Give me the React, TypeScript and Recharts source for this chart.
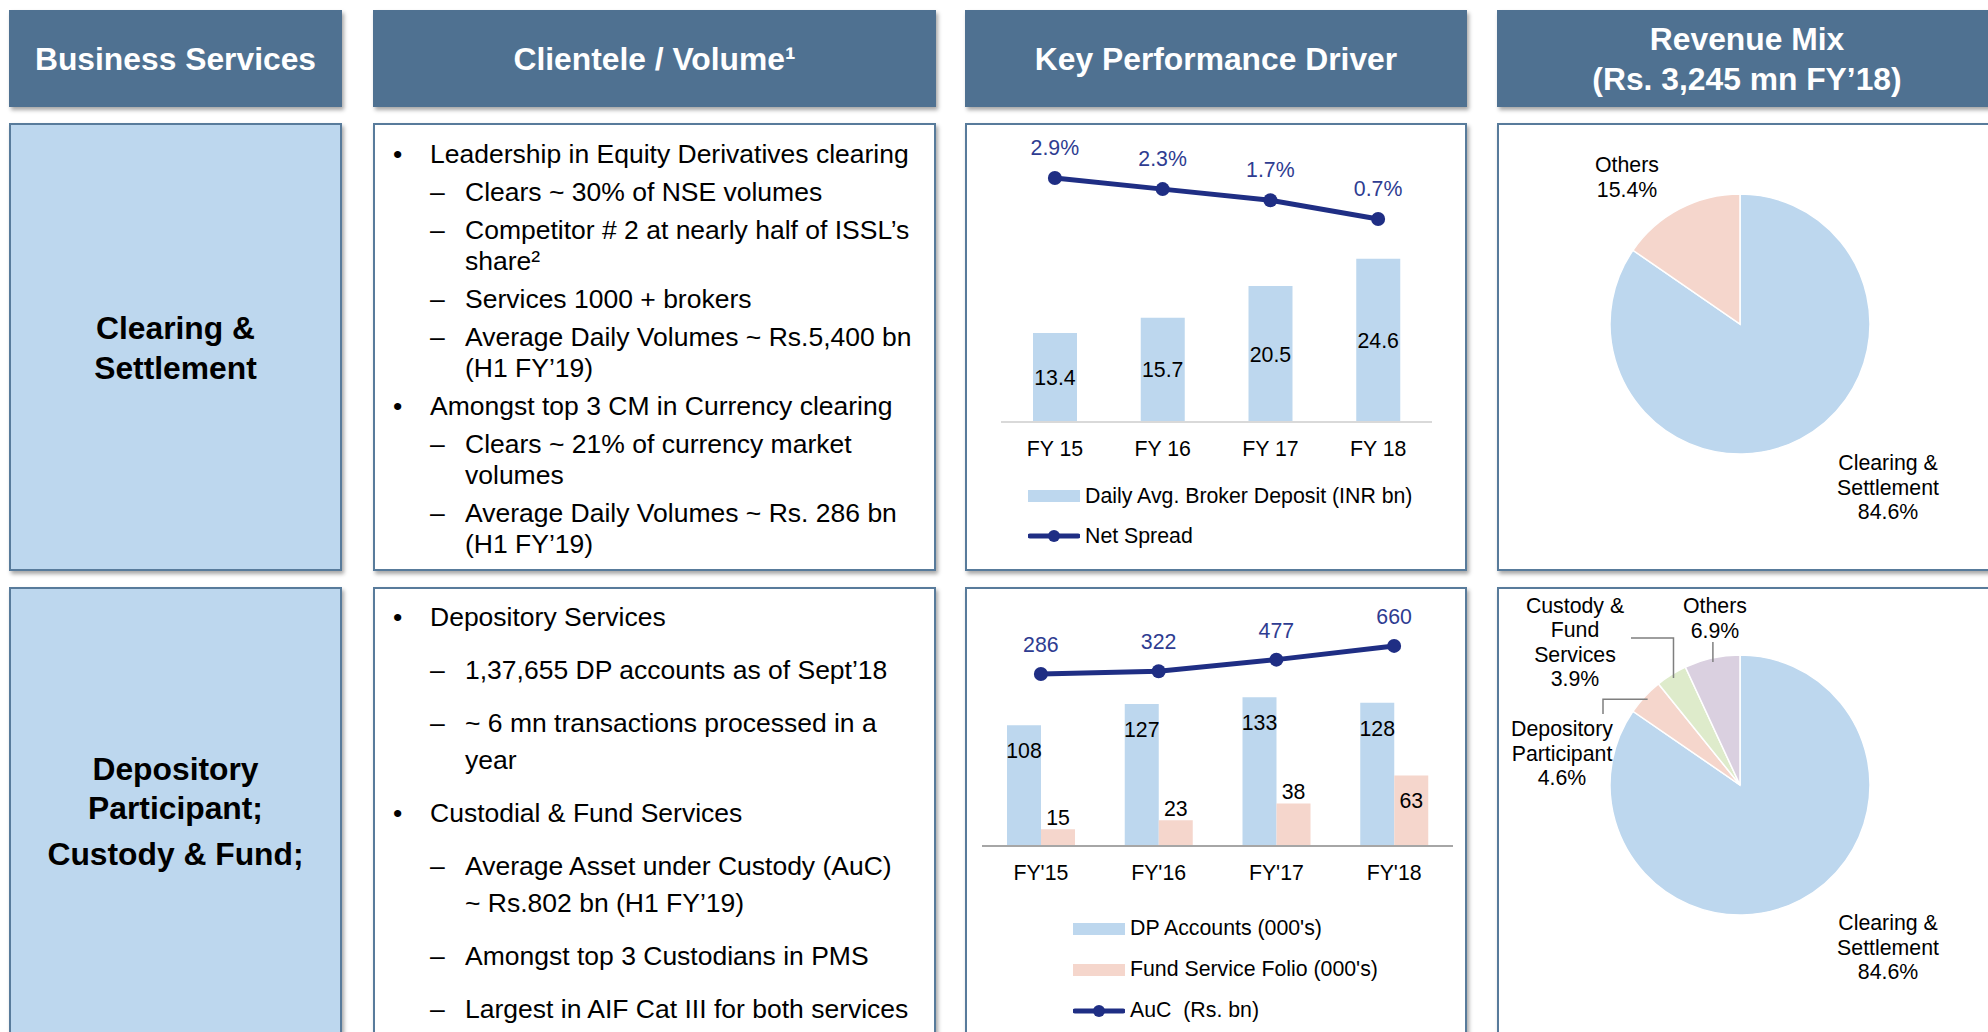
import React from 'react';
import { ComposedChart, Bar, Line, XAxis, YAxis, LabelList, Legend, PieChart, Pie, Cell } from 'recharts';

// Clearing & Settlement KPI
const depositYears = ['FY 15', 'FY 16', 'FY 17', 'FY 18'];
const brokerDeposit = [13.4, 15.7, 20.5, 24.6];
const netSpread = [2.9, 2.3, 1.7, 0.7];

// Depository / Custody KPI
const depoYears = ["FY'15", "FY'16", "FY'17", "FY'18"];
const dpAccounts = [108, 127, 133, 128];
const fundFolio = [15, 23, 38, 63];
const aucValues = [286, 322, 477, 660];

// Revenue mix pies
const mixNames1 = ['Clearing &\nSettlement', 'Others'];
const mixShares1 = [84.6, 15.4];
const mixColors1 = ['#BDD7EE', '#F5D6CC'];

const mixNames2 = ['Clearing &\nSettlement', 'Depository\nParticipant', 'Custody &\nFund\nServices', 'Others'];
const mixShares2 = [84.6, 4.6, 3.9, 6.9];
const mixColors2 = ['#BDD7EE', '#F5D6CC', '#DEEBCB', '#DAD0E0'];

const headers = ['Business Services', 'Clientele / Volume¹', 'Key Performance Driver', 'Revenue Mix\n(Rs. 3,245 mn FY’18)'];

const legendOrder1 = ['Daily Avg. Broker Deposit (INR bn)', 'Net Spread'];
const legendOrder2 = ["DP Accounts (000's)", "Fund Service Folio (000's)", 'AuC  (Rs. bn)'];

type Point = { lvl: 1 | 2; lines: string[] };

const clearingPoints: Point[] = [
  { lvl: 1, lines: ['Leadership in Equity Derivatives clearing'] },
  { lvl: 2, lines: ['Clears ~ 30% of NSE volumes'] },
  { lvl: 2, lines: ['Competitor # 2 at nearly half of ISSL’s', 'share²'] },
  { lvl: 2, lines: ['Services 1000 + brokers'] },
  { lvl: 2, lines: ['Average Daily Volumes ~ Rs.5,400 bn', '(H1 FY’19)'] },
  { lvl: 1, lines: ['Amongst top 3 CM in Currency clearing'] },
  { lvl: 2, lines: ['Clears ~ 21% of currency market', 'volumes'] },
  { lvl: 2, lines: ['Average Daily Volumes ~ Rs. 286 bn', '(H1 FY’19)'] },
];

const depositoryPoints: Point[] = [
  { lvl: 1, lines: ['Depository Services'] },
  { lvl: 2, lines: ['1,37,655 DP accounts as of Sept’18'] },
  { lvl: 2, lines: ['~ 6 mn transactions processed in a', 'year'] },
  { lvl: 1, lines: ['Custodial & Fund Services'] },
  { lvl: 2, lines: ['Average Asset under Custody (AuC)', '~ Rs.802 bn (H1 FY’19)'] },
  { lvl: 2, lines: ['Amongst top 3 Custodians in PMS'] },
  { lvl: 2, lines: ['Largest in AIF Cat III for both services'] },
];

const FONT = '"Liberation Sans", Arial, Helvetica, sans-serif';
const HEADER_BG = '#4F7191';
const EDGE = '#587B9B';
const NAVY = '#1F2E84';
const NAVY_TEXT = '#2E3C91';
const SHADOW = '2px 3px 4px rgba(0,0,0,0.35)';
const FS = 21.3; // chart text size
const BOLD_FS = 31.8;
const BODY_FS = 26.5;

const cols = [
  { x: 9, w: 333 },
  { x: 373, w: 563 },
  { x: 965, w: 502 },
  { x: 1497, w: 520 },
];
const ROW1 = { top: 123, h: 448 };
const ROW2 = { top: 587, h: 470 };

const kpi1 = depositYears.map((year, i) => ({ year, deposit: brokerDeposit[i], spread: netSpread[i] }));
const kpi2 = depoYears.map((year, i) => ({ year, dp: dpAccounts[i], fund: fundFolio[i], auc: aucValues[i] }));
const mix1 = mixNames1.map((name, i) => ({ name, value: mixShares1[i] }));
const mix2 = mixNames2.map((name, i) => ({ name, value: mixShares2[i] }));

const SeriesLegend = ({ payload, rowH, order }: any) => {
  const items = [...(payload || [])].sort((a: any, b: any) => order.indexOf(a.value) - order.indexOf(b.value));
  return (
    <div style={{ fontFamily: FONT, fontSize: FS, color: '#000', whiteSpace: 'pre' }}>
      {items.map((p: any) => (
        <div key={p.value} style={{ display: 'flex', alignItems: 'center', height: rowH }}>
          <svg width={52} height={16} style={{ marginRight: 5 }}>
            {p.type === 'line' ? (
              <g>
                <line x1={2} y1={8} x2={50} y2={8} stroke={p.color} strokeWidth={5} strokeLinecap="round" />
                <circle cx={26} cy={8} r={6} fill={p.color} />
              </g>
            ) : (
              <rect x={0} y={2} width={52} height={12} fill={p.color} />
            )}
          </svg>
          <span>{p.value}</span>
        </div>
      ))}
    </div>
  );
};

const FundLabel = (props: any) => {
  const { x, y, width, height, value } = props;
  const inside = Number(height) > 60;
  const ly = inside ? Number(y) + 25 : Number(y) - 12;
  return (
    <text x={Number(x) + Number(width) / 2} y={ly} dy="0.355em" textAnchor="middle" fontSize={FS} fill="#000" fontFamily={FONT}>
      {value}
    </text>
  );
};

type Spot = { dx: number; dy: number; leader?: 'vertical' | 'up' | 'side' };
const RAD = Math.PI / 180;
const LH = 24.5;

const makePieLabel = (spots: Record<string, Spot>) => (props: any) => {
  const { cx, cy, midAngle, outerRadius } = props;
  const name: string = props.payload?.name ?? props.name;
  const value: number = props.payload?.value ?? props.value;
  const spot = spots[name];
  if (!spot) return null;
  const lines = [...name.split('\n'), `${value.toFixed(1)}%`];
  const lx = cx + spot.dx;
  const ly = cy + spot.dy;
  const firstY = ly - ((lines.length - 1) / 2) * LH;
  const sx = cx + (outerRadius - 4) * Math.cos(-midAngle * RAD);
  const sy = cy + (outerRadius - 4) * Math.sin(-midAngle * RAD);
  let leader: string | null = null;
  if (spot.leader === 'vertical') {
    leader = `${sx},${sy} ${sx},${ly + (lines.length / 2) * LH - 0.5}`;
  } else if (spot.leader === 'up') {
    leader = `${sx},${sy} ${sx},${ly - 4} ${lx + 56},${ly - 4}`;
  } else if (spot.leader === 'side') {
    leader = `${sx},${sy} ${lx + 41},${sy} ${lx + 41},${ly - 39}`;
  }
  return (
    <g>
      {leader && <polyline points={leader} fill="none" stroke="#7F7F7F" strokeWidth={1.5} />}
      <text x={lx} y={firstY} textAnchor="middle" fontSize={FS} fill="#000" fontFamily={FONT}>
        {lines.map((t, i) => (
          <tspan key={i} x={lx} dy={i === 0 ? '0.355em' : LH}>
            {t}
          </tspan>
        ))}
      </text>
    </g>
  );
};

const pieSpots1: Record<string, Spot> = {
  'Clearing &\nSettlement': { dx: 148, dy: 163 },
  Others: { dx: -113, dy: -147 },
};
const pieSpots2: Record<string, Spot> = {
  'Clearing &\nSettlement': { dx: 148, dy: 162 },
  'Depository\nParticipant': { dx: -178, dy: -32, leader: 'side' },
  'Custody &\nFund\nServices': { dx: -165, dy: -143, leader: 'up' },
  Others: { dx: -25, dy: -167, leader: 'vertical' },
};

const Box = ({ x, y, w, h, bg, children }: any) => (
  <div
    style={{
      position: 'absolute',
      left: x,
      top: y,
      width: w,
      height: h,
      boxSizing: 'border-box',
      background: bg,
      border: `2px solid ${EDGE}`,
      boxShadow: SHADOW,
    }}
  >
    {children}
  </div>
);

const TextPanel = ({ points, padTop, lineH, gap }: { points: Point[]; padTop: number; lineH: number; gap: number }) => (
  <div style={{ position: 'absolute', left: 0, top: padTop, fontSize: BODY_FS, color: '#000', whiteSpace: 'nowrap' }}>
    {points.map((p, i) => (
      <div key={i} style={{ position: 'relative', marginTop: i === 0 ? 0 : gap, paddingLeft: p.lvl === 1 ? 55 : 90 }}>
        <span style={{ position: 'absolute', left: p.lvl === 1 ? 18 : 55, top: 0, lineHeight: `${lineH}px` }}>
          {p.lvl === 1 ? '•' : '–'}
        </span>
        {p.lines.map((l, j) => (
          <div key={j} style={{ height: lineH, lineHeight: `${lineH}px` }}>
            {l}
          </div>
        ))}
      </div>
    ))}
  </div>
);

export default function App() {
  return (
    <div
      style={{
        position: 'absolute',
        left: 0,
        top: 0,
        width: 1988,
        height: 1032,
        overflow: 'hidden',
        background: '#fff',
        fontFamily: FONT,
      }}
    >
      {headers.map((h, i) => (
        <div
          key={h}
          style={{
            position: 'absolute',
            left: cols[i].x,
            top: 10,
            width: cols[i].w,
            height: 97,
            background: HEADER_BG,
            boxShadow: SHADOW,
            color: '#fff',
            fontWeight: 700,
            fontSize: BOLD_FS,
            lineHeight: '40px',
            display: 'flex',
            flexDirection: 'column',
            alignItems: 'center',
            justifyContent: 'center',
            paddingRight: i === 3 ? 20 : 0,
            boxSizing: 'border-box',
            whiteSpace: 'nowrap',
          }}
        >
          {h.split('\n').map((t) => (
            <div key={t}>{t}</div>
          ))}
        </div>
      ))}

      {/* row 1 */}
      <Box x={cols[0].x} y={ROW1.top} w={cols[0].w} h={ROW1.h} bg="#BDD7EE">
        <div
          style={{
            position: 'absolute',
            inset: 0,
            display: 'flex',
            flexDirection: 'column',
            alignItems: 'center',
            justifyContent: 'center',
            fontWeight: 700,
            fontSize: BOLD_FS,
            lineHeight: '40px',
            color: '#000',
            paddingTop: 2,
          }}
        >
          <div>Clearing &amp;</div>
          <div>Settlement</div>
        </div>
      </Box>
      <Box x={cols[1].x} y={ROW1.top} w={cols[1].w} h={ROW1.h} bg="#fff">
        <TextPanel points={clearingPoints} padTop={14} lineH={31} gap={7} />
      </Box>
      <Box x={cols[2].x} y={ROW1.top} w={cols[2].w} h={ROW1.h} bg="#fff" />
      <Box x={cols[3].x} y={ROW1.top} w={cols[3].w} h={ROW1.h} bg="#fff" />

      {/* row 2 */}
      <Box x={cols[0].x} y={ROW2.top} w={cols[0].w} h={ROW2.h} bg="#BDD7EE">
        <div
          style={{
            position: 'absolute',
            left: 0,
            right: 0,
            top: 161,
            textAlign: 'center',
            fontWeight: 700,
            fontSize: BOLD_FS,
            lineHeight: '39px',
            color: '#000',
          }}
        >
          <div>Depository</div>
          <div>Participant;</div>
          <div style={{ marginTop: 7 }}>Custody &amp; Fund;</div>
        </div>
      </Box>
      <Box x={cols[1].x} y={ROW2.top} w={cols[1].w} h={ROW2.h} bg="#fff">
        <TextPanel points={depositoryPoints} padTop={10} lineH={37} gap={16} />
      </Box>
      <Box x={cols[2].x} y={ROW2.top} w={cols[2].w} h={ROW2.h} bg="#fff" />
      <Box x={cols[3].x} y={ROW2.top} w={cols[3].w} h={ROW2.h} bg="#fff" />

      {/* KPI chart 1 */}
      <div style={{ position: 'absolute', left: 965, top: 123 }}>
        <ComposedChart width={502} height={448} data={kpi1} margin={{ top: 27, right: 35, bottom: 119, left: 36 }}>
          <XAxis
            dataKey="year"
            axisLine={{ stroke: '#D9D9D9', strokeWidth: 2 }}
            tickLine={false}
            tickSize={0}
            tickMargin={19}
            interval={0}
            tick={{ fill: '#000', fontSize: FS, fontFamily: FONT }}
          />
          <YAxis yAxisId="bar" hide domain={[0, 41]} />
          <YAxis yAxisId="line" hide orientation="right" domain={[-10.2, 4.4]} />
          <Bar yAxisId="bar" dataKey="deposit" name={legendOrder1[0]} fill="#BDD7EE" barSize={44} isAnimationActive={false}>
            <LabelList dataKey="deposit" position="center" fill="#000" fontSize={FS} fontFamily={FONT} />
          </Bar>
          <Line
            yAxisId="line"
            dataKey="spread"
            name={legendOrder1[1]}
            stroke={NAVY}
            strokeWidth={5}
            dot={{ r: 7, fill: NAVY, stroke: 'none' }}
            activeDot={false}
            isAnimationActive={false}
          >
            <LabelList dataKey="spread" position="top" offset={23} fill={NAVY_TEXT} fontSize={FS} fontFamily={FONT} formatter={(v: any) => `${v}%`} />
          </Line>
          <Legend
            layout="vertical"
            align="center"
            verticalAlign="middle"
            wrapperStyle={{ left: 63, top: 353, width: 'auto' }}
            content={(p: any) => <SeriesLegend {...p} rowH={40} order={legendOrder1} />}
          />
        </ComposedChart>
      </div>

      {/* KPI chart 2 */}
      <div style={{ position: 'absolute', left: 965, top: 588 }}>
        <ComposedChart width={502} height={444} data={kpi2} barGap={0} margin={{ top: 12, right: 14, bottom: 156, left: 17 }}>
          <XAxis
            dataKey="year"
            axisLine={{ stroke: '#A6A6A6', strokeWidth: 2 }}
            tickLine={false}
            tickSize={0}
            tickMargin={19}
            interval={0}
            tick={{ fill: '#000', fontSize: FS, fontFamily: FONT }}
          />
          <YAxis yAxisId="bar" hide domain={[0, 220]} />
          <YAxis yAxisId="line" hide orientation="right" domain={[-2011, 1273]} />
          <Bar yAxisId="bar" dataKey="dp" name={legendOrder2[0]} fill="#BDD7EE" barSize={34} isAnimationActive={false}>
            <LabelList dataKey="dp" position="insideTop" offset={18} fill="#000" fontSize={FS} fontFamily={FONT} />
          </Bar>
          <Bar yAxisId="bar" dataKey="fund" name={legendOrder2[1]} fill="#F5D6CC" barSize={34} isAnimationActive={false}>
            <LabelList dataKey="fund" content={FundLabel} />
          </Bar>
          <Line
            yAxisId="line"
            dataKey="auc"
            name={legendOrder2[2]}
            stroke={NAVY}
            strokeWidth={5}
            dot={{ r: 7, fill: NAVY, stroke: 'none' }}
            activeDot={false}
            isAnimationActive={false}
          >
            <LabelList dataKey="auc" position="top" offset={22} fill={NAVY_TEXT} fontSize={FS} fontFamily={FONT} />
          </Line>
          <Legend
            layout="vertical"
            align="center"
            verticalAlign="middle"
            wrapperStyle={{ left: 108, top: 320, width: 'auto' }}
            content={(p: any) => <SeriesLegend {...p} rowH={41} order={legendOrder2} />}
          />
        </ComposedChart>
      </div>

      {/* Revenue mix pies */}
      <div style={{ position: 'absolute', left: 1497, top: 123 }}>
        <PieChart width={491} height={448} margin={{ top: 0, right: 0, bottom: 0, left: 0 }} style={{ overflow: 'visible' }}>
          <Pie
            data={mix1}
            dataKey="value"
            nameKey="name"
            cx={243}
            cy={201}
            outerRadius={130}
            startAngle={90}
            endAngle={-270}
            stroke="#fff"
            strokeWidth={1.5}
            label={makePieLabel(pieSpots1)}
            labelLine={false}
            isAnimationActive={false}
          >
            {mix1.map((d, i) => (
              <Cell key={d.name} fill={mixColors1[i]} />
            ))}
          </Pie>
        </PieChart>
      </div>
      <div style={{ position: 'absolute', left: 1497, top: 587 }}>
        <PieChart width={491} height={445} margin={{ top: 0, right: 0, bottom: 0, left: 0 }} style={{ overflow: 'visible' }}>
          <Pie
            data={mix2}
            dataKey="value"
            nameKey="name"
            cx={243}
            cy={198}
            outerRadius={130}
            startAngle={90}
            endAngle={-270}
            stroke="#fff"
            strokeWidth={1.5}
            label={makePieLabel(pieSpots2)}
            labelLine={false}
            isAnimationActive={false}
          >
            {mix2.map((d, i) => (
              <Cell key={d.name} fill={mixColors2[i]} />
            ))}
          </Pie>
        </PieChart>
      </div>
    </div>
  );
}
